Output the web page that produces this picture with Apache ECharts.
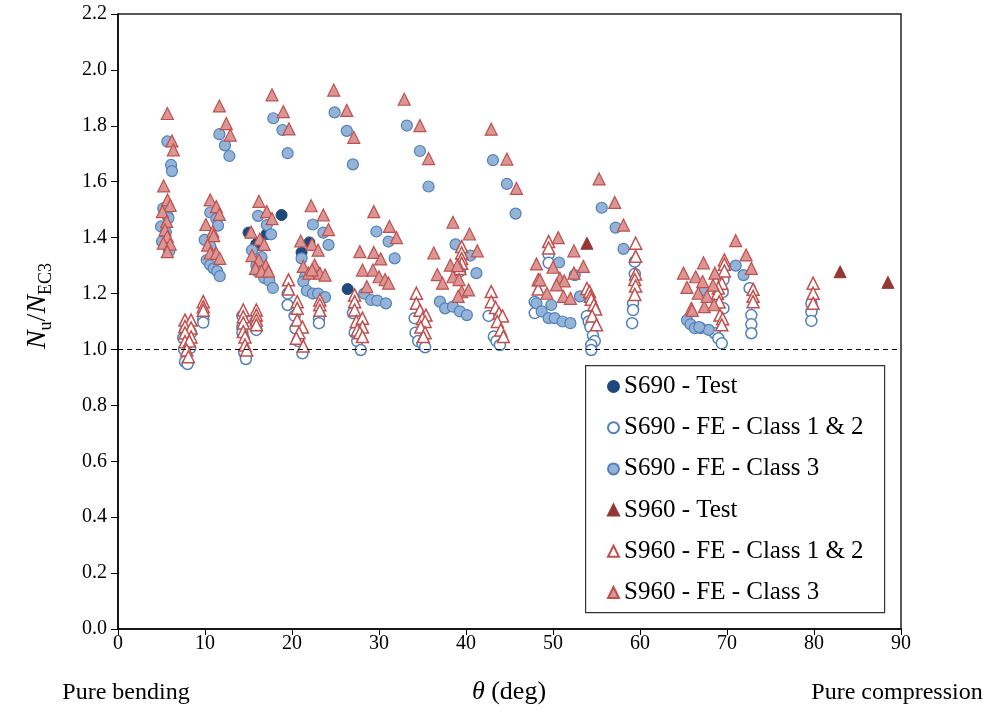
<!DOCTYPE html>
<html>
<head>
<meta charset="utf-8">
<script src="https://cdn.jsdelivr.net/npm/echarts@6/dist/echarts.min.js"></script>
<style>
  html, body { margin: 0; padding: 0; background: #fff; }
  #chart { width: 987px; height: 713px; }
</style>
</head>
<body>
<div id="chart"></div>
<script>
// [theta (deg), Nu/NEC3]
var s690Test = [[15.0,1.418],[15.9,1.377],[17.1,1.413],[18.8,1.481],[21.1,1.347],[22.0,1.383],[26.4,1.216]];

var s690Fe12 = [
  [7.7,1.064],[7.5,1.041],[8.3,1.005],[7.7,0.956],[8.0,0.948],[7.6,1.0],[8.4,1.06],
  [9.8,1.108],[9.8,1.096],
  [14.3,1.12],[14.3,1.08],[14.3,1.06],[14.5,0.99],[14.7,0.966],[15.8,1.10],[15.9,1.07],
  [19.5,1.20],[19.5,1.159],[20.3,1.12],[20.4,1.075],[20.7,1.03],[21.2,0.986],
  [23.1,1.11],[23.1,1.094],
  [27.0,1.13],[27.2,1.06],[27.5,1.03],[27.9,0.998],
  [34.1,1.112],[34.2,1.06],[34.5,1.03],[35.0,1.02],[35.3,1.008],
  [39.3,1.28],
  [42.6,1.12],[43.2,1.046],[43.5,1.03],[43.9,1.016],
  [47.9,1.17],[47.9,1.13],[49.5,1.34],[49.5,1.31],
  [53.9,1.12],[54.1,1.10],[54.3,1.08],[54.6,1.05],[54.8,1.03],[54.4,1.016],[54.4,0.998],
  [59.4,1.314],[59.4,1.27],[59.2,1.165],[59.2,1.141],[59.1,1.094],
  [69.6,1.249],[69.5,1.205],[69.6,1.147],[68.6,1.058],[69.0,1.04],[69.4,1.022],
  [72.6,1.219],[72.8,1.123],[72.8,1.09],[72.8,1.058],
  [79.7,1.165],[79.7,1.134],[79.7,1.102]
];

var s690Fe3 = [
  [5.67,1.744],[6.1,1.66],[6.2,1.638],[5.2,1.505],[5.7,1.478],[5.8,1.47],[4.95,1.44],[5.5,1.42],[5.06,1.386],[5.8,1.362],[5.9,1.352],
  [11.65,1.77],[12.3,1.73],[12.8,1.692],[10.6,1.49],[11.3,1.467],[11.5,1.443],[9.96,1.392],[10.6,1.37],[10.2,1.32],[10.6,1.302],[11.0,1.29],[11.4,1.28],[11.7,1.262],
  [17.85,1.827],[18.9,1.785],[19.5,1.702],[16.1,1.478],[17.1,1.445],[17.6,1.412],[15.4,1.355],[16.5,1.33],[15.9,1.30],[16.0,1.28],[16.8,1.256],[17.4,1.245],[17.8,1.22],
  [24.9,1.848],[26.3,1.782],[27.0,1.662],[22.4,1.447],[23.6,1.418],[24.2,1.374],[21.1,1.326],[21.5,1.26],[21.3,1.243],[21.7,1.21],[22.4,1.20],[23.0,1.20],[23.8,1.187],
  [29.7,1.422],[31.1,1.386],[31.8,1.326],[28.3,1.20],[29.1,1.177],[29.8,1.175],[30.8,1.165],
  [33.2,1.801],[34.7,1.71],[35.7,1.583],[38.8,1.376],[40.5,1.336],[41.2,1.273],[37.0,1.171],[37.6,1.147],[38.5,1.153],[39.3,1.136],[40.1,1.123],
  [43.1,1.677],[44.7,1.592],[45.7,1.486],
  [50.7,1.311],[52.5,1.266],[48.1,1.165],[48.7,1.136],[49.5,1.112],[50.2,1.112],[51.1,1.10],[52.0,1.094],[49.8,1.159],[53.1,1.19],
  [55.6,1.507],[57.2,1.436],[58.1,1.36],
  [65.4,1.105],[65.8,1.09],[66.3,1.076],[67.0,1.076],[67.9,1.07],[67.3,1.213],[66.8,1.08],
  [71.0,1.30],[71.9,1.266]
];

var s960Test = [[53.9,1.38],[83.0,1.278],[88.5,1.24]];

var s960Fe12 = [
  [7.7,1.105],[8.4,1.105],[7.7,1.082],[8.4,1.077],[7.7,1.059],[8.4,1.045],[7.7,1.028],[8.2,1.03],[7.9,0.998],[8.1,0.974],
  [9.8,1.171],[9.8,1.153],[9.8,1.14],
  [14.4,1.141],[14.4,1.117],[14.4,1.095],[14.4,1.064],[14.6,1.045],[14.6,1.016],[14.8,0.998],[15.9,1.141],[15.9,1.123],[15.9,1.105],[15.9,1.088],
  [19.6,1.249],[19.6,1.216],[20.6,1.171],[20.6,1.147],[20.6,1.105],[21.2,1.08],[20.8,1.06],[20.5,1.04],[21.3,1.012],
  [23.2,1.177],[23.2,1.16],[23.2,1.14],
  [27.2,1.195],[27.2,1.171],[27.2,1.141],[27.4,1.10],[28.1,1.112],[28.1,1.08],[27.5,1.07],[27.8,1.06],[28.1,1.046],
  [34.3,1.201],[34.3,1.165],[34.7,1.14],[35.4,1.123],[35.0,1.11],[35.3,1.10],[34.8,1.08],[35.3,1.06],[35.1,1.046],
  [39.5,1.368],[39.5,1.345],[39.5,1.325],[39.5,1.308],[39.3,1.29],
  [42.9,1.207],[42.9,1.171],[43.4,1.15],[43.8,1.13],[44.2,1.12],[43.6,1.10],[44.0,1.07],[44.3,1.046],
  [49.5,1.386],[49.5,1.363],[48.3,1.249],[48.3,1.216],
  [53.9,1.218],[54.2,1.207],[54.3,1.19],[54.4,1.18],[54.7,1.16],[54.9,1.145],[54.5,1.12],[55.0,1.088],
  [59.5,1.38],[59.5,1.333],[59.5,1.27],[59.4,1.25],[59.5,1.227],[59.4,1.197],
  [69.7,1.32],[69.7,1.305],[69.7,1.281],[69.4,1.237],[69.0,1.22],[68.9,1.20],[69.1,1.17],[69.2,1.123],[69.5,1.11],[69.4,1.088],
  [73.0,1.215],[73.0,1.19],[73.0,1.171],
  [79.9,1.237],[79.9,1.201],[79.9,1.165]
];

var s960Fe3 = [
  [5.67,1.844],[6.2,1.746],[6.36,1.714],[5.25,1.585],[5.7,1.535],[6.0,1.515],[5.1,1.493],[5.6,1.458],[5.4,1.428],[5.67,1.404],[5.2,1.38],[6.0,1.377],[5.67,1.35],
  [11.65,1.871],[12.45,1.808],[12.9,1.767],[10.6,1.535],[11.3,1.511],[11.65,1.483],[10.1,1.447],[10.9,1.422],[11.0,1.407],[10.3,1.373],[10.6,1.345],[11.3,1.344],[11.7,1.326],
  [17.7,1.911],[19.0,1.851],[19.65,1.789],[16.2,1.53],[17.1,1.493],[17.7,1.468],[15.3,1.42],[16.3,1.395],[16.8,1.376],[15.4,1.336],[16.2,1.32],[17.0,1.30],[15.8,1.29],[16.5,1.28],[17.3,1.28],
  [22.2,1.514],[24.8,1.928],[26.3,1.855],[27.1,1.759],[23.6,1.481],[24.2,1.429],[21.0,1.388],[22.3,1.376],[23.0,1.355],[21.3,1.297],[21.9,1.273],[22.6,1.302],[23.2,1.273],[23.8,1.266],[22.3,1.285],
  [29.4,1.493],[31.2,1.44],[32.0,1.40],[27.8,1.35],[29.4,1.347],[30.2,1.324],[28.1,1.284],[29.3,1.284],[30.0,1.26],[30.7,1.25],[31.1,1.237],[28.6,1.225],
  [32.9,1.895],[34.7,1.801],[35.7,1.683],[38.5,1.455],[40.4,1.413],[41.3,1.353],[36.3,1.345],[38.2,1.302],[39.0,1.30],[36.7,1.268],[37.3,1.237],[38.5,1.26],[39.2,1.25],[39.5,1.207],[40.3,1.213],[39.1,1.19],
  [42.9,1.788],[44.7,1.681],[45.8,1.576],
  [50.6,1.40],[52.4,1.353],[48.1,1.306],[50.0,1.294],[48.5,1.249],[49.3,1.201],[50.8,1.254],[51.3,1.245],[50.4,1.231],[51.2,1.19],[52.0,1.183],[52.4,1.273],
  [55.3,1.61],[57.1,1.526],[58.1,1.445],[53.5,1.297],
  [65.0,1.273],[65.4,1.222],[66.4,1.26],[67.3,1.31],[67.2,1.243],[66.7,1.201],[65.9,1.147],[67.4,1.153],[67.7,1.19],[68.6,1.273],[68.4,1.23],[68.5,1.16],[66.0,1.14],
  [71.0,1.389],[72.2,1.338],[72.8,1.29]
];

var seriesNames = ['S690 - Test', 'S690 - FE - Class 1 & 2', 'S690 - FE - Class 3',
                   'S960 - Test', 'S960 - FE - Class 1 & 2', 'S960 - FE - Class 3'];

var serif = '"Liberation Serif", "Times New Roman", serif';

var chart = echarts.init(document.getElementById('chart'));

function scat(name, data, symbol, size, fill, stroke, bw) {
  return {
    name: name,
    type: 'scatter',
    data: data,
    symbol: symbol,
    symbolSize: size,
    itemStyle: { color: fill, borderColor: stroke, borderWidth: bw, opacity: 1 },
    emphasis: { disabled: true }
  };
}

var series = [
  scat(seriesNames[0], s690Test, 'circle', 11, '#1F497D', '#1F497D', 1),
  scat(seriesNames[1], s690Fe12, 'circle', 11, '#FFFFFF', '#4F81BD', 1.5),
  scat(seriesNames[2], s690Fe3, 'circle', 11, '#95B3D7', '#4F81BD', 1.2),
  scat(seriesNames[3], s960Test, 'triangle', 12, '#953735', '#953735', 1),
  scat(seriesNames[4], s960Fe12, 'triangle', 12, '#FFFFFF', '#C0504D', 1.5),
  scat(seriesNames[5], s960Fe3, 'triangle', 12, '#D99694', '#C0504D', 1.2)
];

// dashed reference line at 1.0
series[0].markLine = {
  silent: true,
  symbol: 'none',
  label: { show: false },
  lineStyle: { color: '#000', type: [5, 4], width: 1 },
  data: [{ yAxis: 1.0 }]
};

var option = {
  backgroundColor: '#fff',
  animation: false,
  grid: {
    left: 118, right: 86, top: 14, bottom: 84,
    show: true, borderColor: '#222', borderWidth: 1.5, backgroundColor: 'transparent'
  },
  xAxis: {
    type: 'value', min: 0, max: 90, interval: 10,
    axisLine: { lineStyle: { color: '#000', width: 1.5 } },
    axisTick: { show: true, inside: false, length: 6, lineStyle: { color: '#000' } },
    axisLabel: { color: '#000', fontFamily: serif, fontSize: 20, margin: 5 },
    splitLine: { show: false }
  },
  yAxis: {
    type: 'value', min: 0, max: 2.2, interval: 0.2,
    axisLine: { show: true, lineStyle: { color: '#000', width: 1.5 } },
    axisTick: { show: true, inside: false, length: 7, lineStyle: { color: '#000' } },
    axisLabel: {
      color: '#000', fontFamily: serif, fontSize: 20, margin: 11,
      formatter: function (v) { return v.toFixed(1); }
    },
    splitLine: { show: false }
  },
  legend: {
    data: seriesNames,
    orient: 'vertical',
    left: 607, top: 374,
    padding: 0,
    itemWidth: 11, itemHeight: 11,
    itemGap: 16.2,
    textStyle: { color: '#000', fontFamily: serif, fontSize: 25, lineHeight: 25 },
    selectedMode: false
  },
  graphic: [
    {
      type: 'rect', left: 585, top: 365, z: 0,
      shape: { width: 299, height: 247 },
      style: { fill: '#fff', stroke: '#333', lineWidth: 1.2 }
    },
    {
      type: 'text', x: 38, y: 306, rotation: Math.PI / 2,
      style: {
        text: '{n|N}{s|u}{r|/}{n|N}{s|EC3}',
        align: 'center', verticalAlign: 'middle',
        fill: '#000',
        rich: {
          n: { fontFamily: serif, fontStyle: 'italic', fontSize: 28, lineHeight: 34, verticalAlign: 'middle' },
          r: { fontFamily: serif, fontSize: 28, lineHeight: 34, verticalAlign: 'middle' },
          s: { fontFamily: serif, fontSize: 18, lineHeight: 18, verticalAlign: 'bottom' }
        }
      }
    },
    {
      type: 'text', x: 126, y: 693,
      style: { text: 'Pure bending', fontFamily: serif, fontSize: 24, fill: '#000', align: 'center', verticalAlign: 'middle' }
    },
    {
      type: 'text', x: 509, y: 692,
      style: {
        text: '{i|θ}{r| (deg)}', align: 'center', verticalAlign: 'middle', fill: '#000',
        rich: {
          i: { fontFamily: serif, fontStyle: 'italic', fontSize: 26 },
          r: { fontFamily: serif, fontSize: 26 }
        }
      }
    },
    {
      type: 'text', x: 897, y: 693,
      style: { text: 'Pure compression', fontFamily: serif, fontSize: 24, fill: '#000', align: 'center', verticalAlign: 'middle' }
    }
  ],
  series: series
};

chart.setOption(option);
</script>
</body>
</html>
